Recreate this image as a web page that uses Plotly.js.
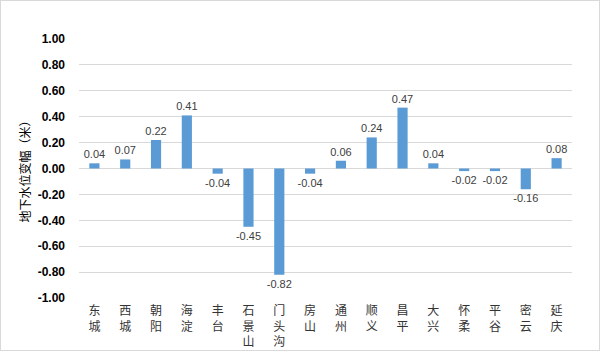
<!DOCTYPE html>
<html><head><meta charset="utf-8">
<script src="https://cdn.plot.ly/plotly-3.0.1.min.js"></script>
<style>html,body{margin:0;padding:0;background:#fff}#wrap{width:598px;height:349px;border:1px solid #d9d9d9;position:relative;overflow:hidden}#chart{position:absolute;left:-1px;top:-1px;width:600px;height:351px}</style>
</head><body><div id="wrap"><div id="chart"></div></div>
<script>
const districts = ["东城","西城","朝阳","海淀","丰台","石景山","门头沟","房山","通州","顺义","昌平","大兴","怀柔","平谷","密云","延庆"];
const changes = [0.04,0.07,0.22,0.41,-0.04,-0.45,-0.82,-0.04,0.06,0.24,0.47,0.04,-0.02,-0.02,-0.16,0.08];
const yTicks = [1,0.8,0.6,0.4,0.2,0,-0.2,-0.4,-0.6,-0.8,-1];
const yTickText = yTicks.map(v => v.toFixed(2));
const xLabels = districts.map(d => d.split("").join("<br>"));

Plotly.newPlot("chart", [{
  type: "bar",
  x: xLabels,
  y: changes,
  marker: {color: "#5b9bd5"},
  text: changes.map(v => v.toFixed(2)),
  textposition: "outside",
  constraintext: "none",
  textfont: {family: "Liberation Sans, Arial", size: 11, color: "#404040"},
  cliponaxis: false,
  hoverinfo: "none"
}], {
  width: 600, height: 351,
  margin: {l: 78.5, r: 27.5, t: 39, b: 53},
  paper_bgcolor: "rgba(0,0,0,0)", plot_bgcolor: "#fff",
  bargap: 0.67,
  showlegend: false,
  font: {family: "Noto Sans CJK SC", color: "#000"},
  xaxis: {
    tickfont: {family: "Noto Sans CJK SC", size: 12, color: "#333"},
    showgrid: false, zeroline: false, showline: false, ticks: "",
    ticklabelstandoff: 4,
    fixedrange: true
  },
  yaxis: {
    range: [-1, 1],
    tickvals: yTicks, ticktext: yTickText,
    tickfont: {family: "Liberation Sans, Arial", size: 12, color: "#000", weight: "bold"},
    showgrid: true, gridcolor: "#d9d9d9", gridwidth: 1,
    zeroline: true, zerolinecolor: "#d9d9d9", zerolinewidth: 1,
    showline: false, ticks: "", ticklabelstandoff: 13,
    title: {text: "地下水位变幅（米）", font: {family: "Noto Sans CJK SC", size: 12, color: "#000"}, standoff: 4},
    fixedrange: true
  }
}, {displayModeBar: false, staticPlot: true});
</script></body></html>
